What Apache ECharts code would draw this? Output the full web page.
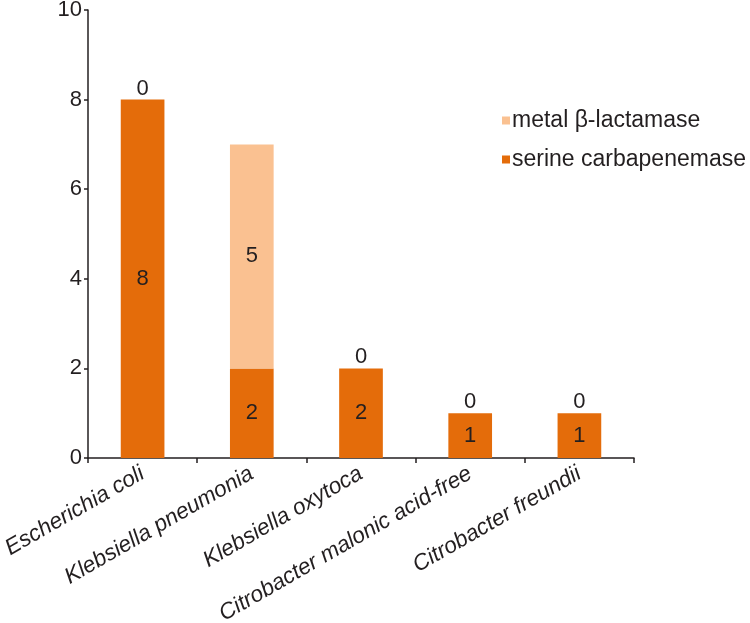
<!DOCTYPE html>
<html>
<head>
<meta charset="utf-8">
<script src="https://cdn.jsdelivr.net/npm/echarts@6/dist/echarts.min.js"></script>
<style>
  html, body { margin: 0; padding: 0; background: #fff; }
  #chart { width: 750px; height: 623px; }
</style>
</head>
<body>
<div id="chart"></div>
<script>
const categories = [
  'Escherichia coli',
  'Klebsiella pneumonia',
  'Klebsiella oxytoca',
  'Citrobacter malonic acid-free',
  'Citrobacter freundii'
];
const serine = [8, 2, 2, 1, 1];
const metal = [0, 5, 0, 0, 0];
const yTicks = [0, 2, 4, 6, 8, 10];

const textColor = '#231f20';
const font = 'Liberation Sans, Arial, sans-serif';

const chart = echarts.init(document.getElementById('chart'));

// zero-height stacked bars get their label above the stack
const labelFor = (v) => ({
  show: true,
  position: v === 0 ? 'top' : 'inside',
  distance: 0,
  color: textColor,
  fontSize: 22,
  fontFamily: font,
});

const option = {
  animation: false,
  grid: {left: 88, right: 116, top: 10, bottom: 165, containLabel: false, outerBoundsMode: 'none'},
  legend: {
    orient: 'vertical',
    left: 497,
    top: 104,
    itemWidth: 8,
    itemHeight: 8,
    itemGap: 16,
    icon: 'rect',
    textStyle: {color: textColor, fontSize: 23, fontFamily: font, padding: [0, 0, 0, -3]},
    data: ['metal β-lactamase', 'serine carbapenemase'],
  },
  xAxis: {
    type: 'category',
    data: categories,
    axisLine: {lineStyle: {color: textColor, width: 1.5}},
    axisTick: {show: true, length: 5, lineStyle: {color: textColor, width: 1.5}},
    axisLabel: {
      rotate: 30,
      interval: 0,
      margin: 14,
      color: textColor,
      fontSize: 22.5,
      fontStyle: 'italic',
      fontFamily: font,
    },
  },
  yAxis: {
    type: 'value',
    min: 0,
    max: 10,
    interval: 2,
    axisLine: {show: true, lineStyle: {color: textColor, width: 1.5}},
    axisTick: {show: true, length: 4, lineStyle: {color: textColor, width: 1.5}},
    splitLine: {show: false},
    axisLabel: {
      color: textColor,
      fontSize: 22,
      fontFamily: font,
      margin: 6,
      formatter: (v) => (yTicks.includes(v) ? String(v) : ''),
    },
  },
  series: [
    {
      name: 'serine carbapenemase',
      type: 'bar',
      stack: 'total',
      barWidth: '40%',
      itemStyle: {color: '#E46C0A'},
      data: serine.map((v) => ({value: v, label: labelFor(v)})),
    },
    {
      name: 'metal β-lactamase',
      type: 'bar',
      stack: 'total',
      barWidth: '40%',
      itemStyle: {color: '#FAC191'},
      data: metal.map((v) => ({value: v, label: labelFor(v)})),
    },
  ],
};

chart.setOption(option);
</script>
</body>
</html>
